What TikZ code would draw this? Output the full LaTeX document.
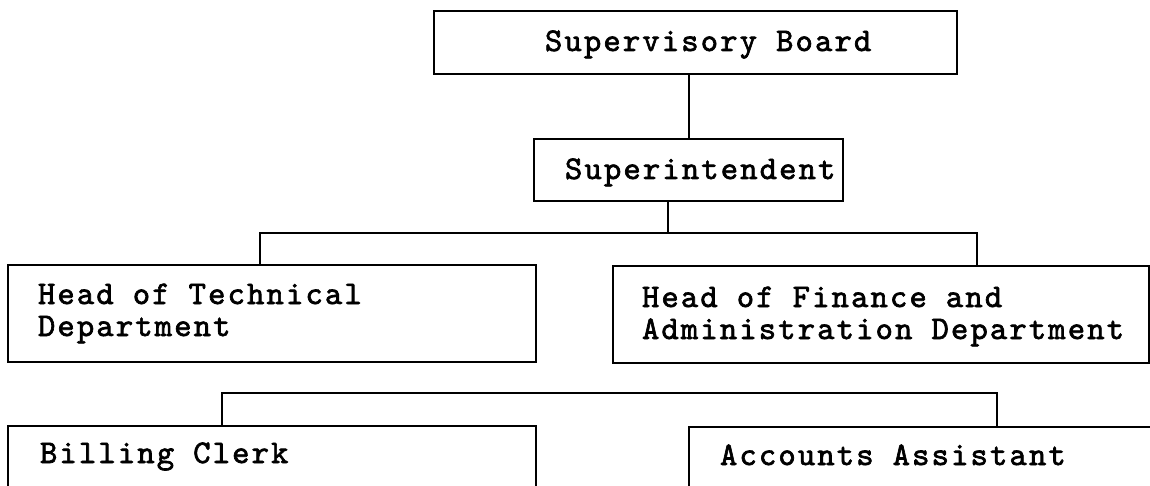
\documentclass[tikz,border=0pt]{standalone}
\usepackage{fontspec}
\newfontfamily\boxfont[FakeBold=2,LetterSpace=6.5]{lmmono10-regular.otf}
\DeclareRobustCommand\orgfont{\boxfont\fontsize{33pt}{32pt}\selectfont}
\newcommand\gap{\hspace{19.08pt}}
\usetikzlibrary{calc}
\tikzset{
  orgbox/.style={draw, line width=2pt, rectangle, inner sep=0pt, anchor=north west,
    align=left, font=\orgfont},
  link/.style={line width=2pt}
}
\begin{document}
\begin{tikzpicture}[x=1pt,y=1pt]
\useasboundingbox (0,0) rectangle (1150,-486);
\clip (0,0) rectangle (1150,-486);
% boxes
\node[orgbox, text width=523pt, text height=40pt, text depth=23pt] (sb) at (433,-10)
  {\hspace*{111pt}Supervisory\gap Board};
\node[orgbox, text width=309pt, text height=40pt, text depth=22pt] (si) at (533,-138)
  {\hspace*{31pt}Superintendent};
\node[orgbox, text width=528pt, text height=39pt, text depth=58pt] (ht) at (7,-264)
  {\hspace*{30pt}Head\gap of\gap Technical\\\hspace*{30pt}Department};
\node[orgbox, text width=536pt, text height=41pt, text depth=56pt] (hf) at (612,-265)
  {\hspace*{29pt}Head\gap of\gap Finance\gap and\\\hspace*{29pt}Administration\gap Department};
\node[orgbox, text width=528pt, text height=37pt, text depth=25pt] (bc) at (7,-425)
  {\hspace*{32pt}Billing\gap Clerk};
\node[orgbox, text width=472pt, text height=38pt, text depth=24pt] (aa) at (688,-426)
  {\hspace*{31pt}Accounts\gap Assistant};
% bus coordinates
\coordinate (s1) at (668,-233);
\coordinate (b1l) at (260,-233);
\coordinate (b1r) at (977,-233);
\coordinate (b2l) at (222,-393);
\coordinate (b2r) at (997,-393);
% connectors
\draw[link] (si.north) -- (si.north |- sb.south);
\draw[link] (s1 |- si.south) -- (s1);
\draw[link] (b1l |- ht.north) -- (b1l) -- (b1r) -- (b1r |- hf.north);
\draw[link] (b2l |- bc.north) -- (b2l) -- (b2r) -- (b2r |- aa.north);
\end{tikzpicture}
\end{document}
